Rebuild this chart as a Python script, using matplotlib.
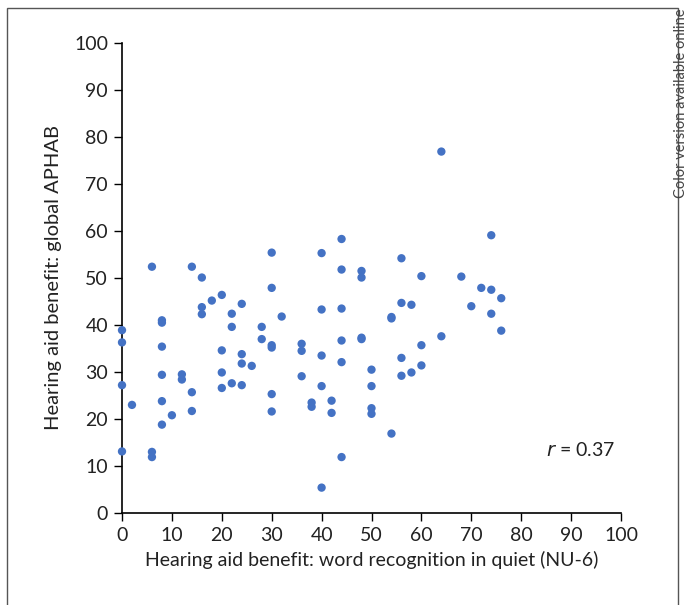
import matplotlib.pyplot as plt
from matplotlib.patches import Rectangle

# word recognition benefit (NU-6) vs global APHAB benefit
nu6 = [0, 0, 0, 0,
       2,
       6, 6, 6,
       8, 8, 8, 8, 8, 8,
       10,
       12, 12,
       14, 14, 14,
       16, 16, 16,
       18,
       20, 20, 20, 20,
       22, 22, 22,
       24, 24, 24, 24,
       26,
       28, 28,
       30, 30, 30, 30, 30, 30,
       32,
       36, 36, 36,
       38, 38,
       40, 40, 40, 40, 40,
       42, 42,
       44, 44, 44, 44, 44, 44,
       48, 48, 48, 48,
       50, 50, 50, 50,
       54, 54, 54,
       56, 56, 56, 56,
       58, 58,
       60, 60, 60,
       64, 64,
       68, 70, 72,
       74, 74, 74,
       76, 76]
aphab = [38.9, 36.3, 27.2, 13.1,
         23.0,
         52.4, 13.0, 11.9,
         41.0, 40.5, 35.4, 29.4, 23.8, 18.8,
         20.8,
         29.5, 28.4,
         52.4, 25.7, 21.7,
         50.1, 43.8, 42.3,
         45.2,
         46.4, 34.6, 29.9, 26.6,
         42.4, 39.6, 27.6,
         44.5, 33.8, 31.8, 27.2,
         31.3,
         39.6, 37.0,
         55.4, 47.9, 35.7, 35.2, 25.3, 21.6,
         41.8,
         36.0, 34.5, 29.1,
         23.5, 22.6,
         55.3, 43.3, 33.5, 27.0, 5.4,
         23.9, 21.3,
         58.3, 51.8, 43.5, 36.7, 32.1, 11.9,
         51.5, 50.1, 37.3, 37.0,
         30.5, 27.0, 22.3, 21.1,
         41.7, 41.4, 16.9,
         54.2, 44.7, 33.0, 29.2,
         44.3, 29.9,
         50.4, 35.7, 31.4,
         76.9, 37.6,
         50.3, 44.0, 47.9,
         59.1, 47.5, 42.4,
         45.7, 38.8]

plt.rcParams['font.family'] = ['Lato', 'DejaVu Sans']
fs = 14

fig = plt.figure(figsize=(6.89, 6.05), dpi=100)
ax = fig.add_axes([122 / 689, 1 - 513 / 605, 499 / 689, 470 / 605])

ax.scatter(nu6, aphab, s=36, color='#4472C4', edgecolors='none', clip_on=False, zorder=3)

ax.set_xlim(0, 100)
ax.set_ylim(0, 100)
ax.set_xticks(range(0, 101, 10))
ax.set_yticks(range(0, 101, 10))
for s in ['top', 'right']:
    ax.spines[s].set_visible(False)
for s in ['left', 'bottom']:
    ax.spines[s].set_linewidth(1.2)
ax.tick_params(direction='out', length=6, width=1, labelsize=fs, pad=4,
               colors='black', labelcolor='#222222')

ax.set_xlabel('Hearing aid benefit: word recognition in quiet (NU-6)', fontsize=fs, color='#222222', labelpad=5)
ax.set_ylabel('Hearing aid benefit: global APHAB', fontsize=14.5, color='#222222', labelpad=9)

ax.text(85, 13.5, '$\\it{r}$ = 0.37', fontsize=fs, color='#222222', ha='left', va='center')

# frame around the figure and side note
fig.patches.append(Rectangle((7 / 689, -0.05), 671 / 689, 1.05 - 8 / 605,
                             transform=fig.transFigure, fill=False, edgecolor='#555555', linewidth=1))
fig.text(688 / 689, 1 - 8 / 605, 'Color version available online', rotation=90,
         ha='right', va='top', fontsize=10.5, color='#444444')

fig.savefig('out.png', dpi=100)
